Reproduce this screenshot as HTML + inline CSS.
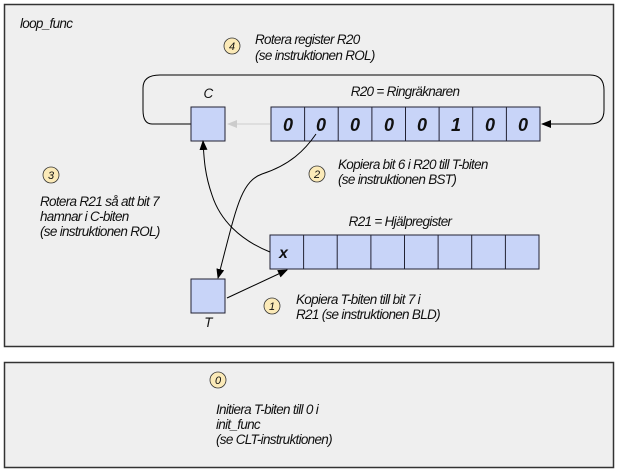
<!DOCTYPE html>
<html><head><meta charset="utf-8"><style>
html,body{margin:0;padding:0;background:#fff;width:618px;height:474px;overflow:hidden}
svg text{font-family:"Liberation Sans",sans-serif;font-style:italic;font-size:13.5px;fill:#111;letter-spacing:-0.7px}
.d{font-weight:bold;font-size:18px;letter-spacing:0}
.n{font-size:11px;letter-spacing:0}
</style></head><body>
<svg width="618" height="474" viewBox="0 0 618 474" xmlns="http://www.w3.org/2000/svg">
<defs>
<marker id="ah" markerWidth="10" markerHeight="8" refX="9" refY="4" orient="auto" markerUnits="userSpaceOnUse"><path d="M0,0 L10,4 L0,8 Z" fill="#000"/></marker>
<marker id="ag" markerWidth="10" markerHeight="8" refX="9" refY="4" orient="auto" markerUnits="userSpaceOnUse"><path d="M0,0 L10,4 L0,8 Z" fill="#ccc"/></marker>
</defs>
<rect x="4.5" y="4.5" width="609" height="342" fill="#efefef" stroke="#333" stroke-width="1.5"/>
<rect x="4.5" y="362.5" width="609" height="105" fill="#efefef" stroke="#333" stroke-width="1.5"/>
<text x="20" y="28">loop_func</text>
<circle cx="232" cy="46" r="8" fill="#fbeab8" stroke="#333" stroke-width="0.8"/><text class="n" x="232" y="50" text-anchor="middle">4</text>
<text x="255" y="44">Rotera register R20</text>
<text x="255" y="60">(se instruktionen ROL)</text>
<path d="M191,124 H152 Q143,124 143,110 V88 Q143,75 160,75 H590 Q604,75 604,90 V110 Q604,124 590,124 H542" fill="none" stroke="#000" stroke-width="1" marker-end="url(#ah)"/>
<text x="208" y="98" text-anchor="middle">C</text>
<rect x="191" y="107" width="34" height="34" fill="#c8d4f8" stroke="#223" stroke-width="1"/>
<line x1="270" y1="124" x2="228" y2="124" stroke="#ccc" stroke-width="1" marker-end="url(#ag)"/>
<text x="405" y="96" text-anchor="middle">R20 = Ringräknaren</text>
<rect x="271" y="107" width="269" height="34" fill="#c8d4f8" stroke="#223" stroke-width="1"/>
<g stroke="#223" stroke-width="1">
<line x1="304.6" y1="107" x2="304.6" y2="141"/><line x1="338.2" y1="107" x2="338.2" y2="141"/><line x1="371.9" y1="107" x2="371.9" y2="141"/><line x1="405.5" y1="107" x2="405.5" y2="141"/><line x1="439.1" y1="107" x2="439.1" y2="141"/><line x1="472.7" y1="107" x2="472.7" y2="141"/><line x1="506.4" y1="107" x2="506.4" y2="141"/></g>
<g text-anchor="middle"><text class="d" x="288" y="131">0</text><text class="d" x="321" y="131">0</text><text class="d" x="355" y="131">0</text><text class="d" x="389" y="131">0</text><text class="d" x="422" y="131">0</text><text class="d" x="456" y="131">1</text><text class="d" x="490" y="131">0</text><text class="d" x="523" y="131">0</text></g>
<circle cx="317" cy="174" r="8" fill="#fbeab8" stroke="#333" stroke-width="0.8"/><text class="n" x="317" y="178" text-anchor="middle">2</text>
<text x="338" y="169">Kopiera bit 6 i R20 till T-biten</text>
<text x="338" y="184">(se instruktionen BST)</text>
<circle cx="51" cy="175" r="8" fill="#fbeab8" stroke="#333" stroke-width="0.8"/><text class="n" x="51" y="179" text-anchor="middle">3</text>
<text x="40" y="206">Rotera R21 så att bit 7</text>
<text x="40" y="221">hamnar i C-biten</text>
<text x="40" y="236">(se instruktionen ROL)</text>
<text x="400" y="226" text-anchor="middle">R21 = Hjälpregister</text>
<rect x="270" y="235" width="269" height="34" fill="#c8d4f8" stroke="#223" stroke-width="1"/>
<g stroke="#223" stroke-width="1">
<line x1="303.6" y1="235" x2="303.6" y2="269"/><line x1="337.2" y1="235" x2="337.2" y2="269"/><line x1="370.9" y1="235" x2="370.9" y2="269"/><line x1="404.5" y1="235" x2="404.5" y2="269"/><line x1="438.1" y1="235" x2="438.1" y2="269"/><line x1="471.7" y1="235" x2="471.7" y2="269"/><line x1="505.4" y1="235" x2="505.4" y2="269"/></g>
<text class="d" x="279" y="258" style="font-size:16px">x</text>
<path d="M316,134 C305,150 290,165 262,174 C240,182 236,210 218,278" fill="none" stroke="#000" stroke-width="1" marker-end="url(#ah)"/>
<path d="M270,252 C240,240 220,220 212,195 C205,175 204,160 203,141" fill="none" stroke="#000" stroke-width="1" marker-end="url(#ah)"/>
<rect x="191" y="279" width="34" height="34" fill="#c8d4f8" stroke="#223" stroke-width="1"/>
<text x="208" y="327" text-anchor="middle">T</text>
<line x1="227" y1="298" x2="287" y2="270" stroke="#000" stroke-width="1" marker-end="url(#ah)"/>
<circle cx="272" cy="306" r="8" fill="#fbeab8" stroke="#333" stroke-width="0.8"/><text class="n" x="272" y="310" text-anchor="middle">1</text>
<text x="296" y="304">Kopiera T-biten till bit 7 i</text>
<text x="296" y="319">R21 (se instruktionen BLD)</text>
<circle cx="218" cy="380" r="8" fill="#fbeab8" stroke="#333" stroke-width="0.8"/><text class="n" x="218" y="384" text-anchor="middle">0</text>
<text x="216" y="414">Initiera T-biten till 0 i</text>
<text x="216" y="429">init_func</text>
<text x="216" y="444">(se CLT-instruktionen)</text>
</svg>
</body></html>
